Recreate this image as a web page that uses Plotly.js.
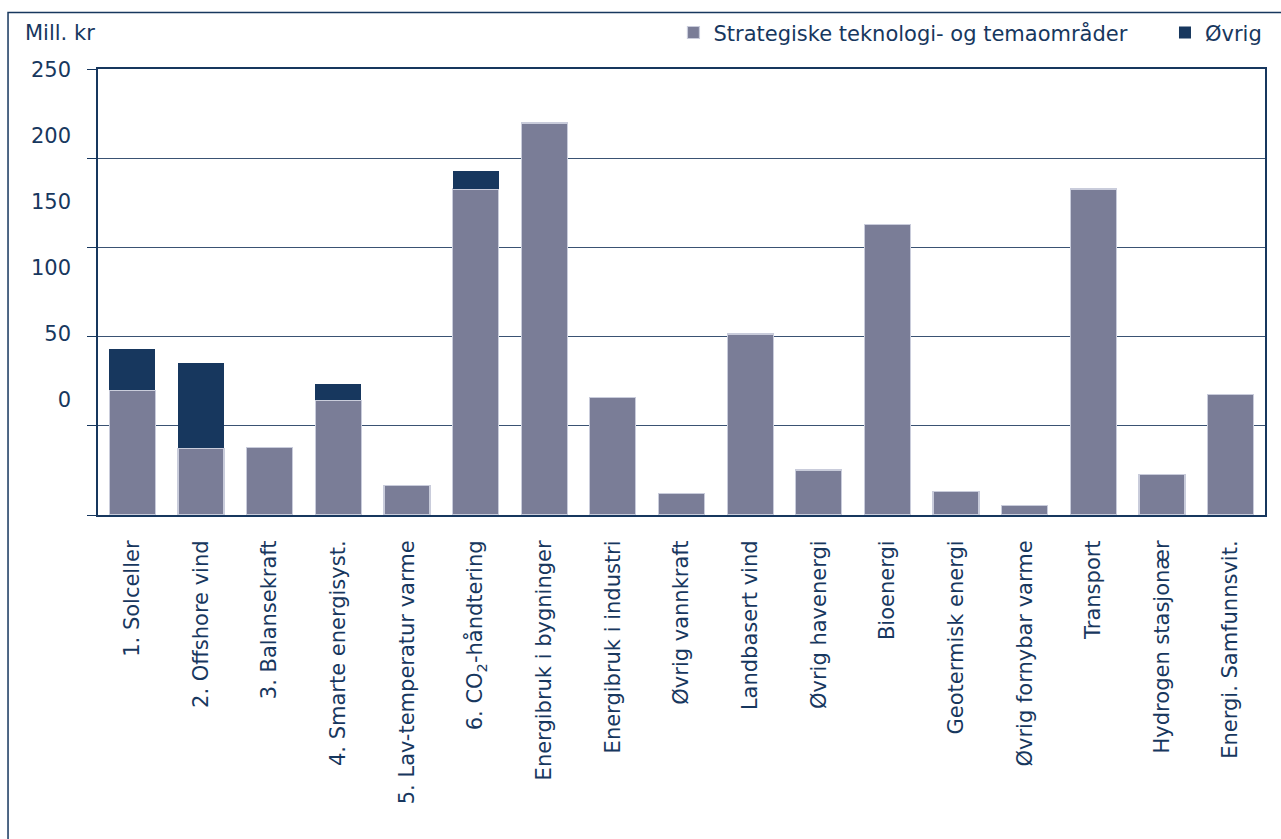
<!DOCTYPE html>
<html>
<head>
<meta charset="utf-8">
<script src="https://cdn.plot.ly/plotly-3.0.1.min.js"></script>
<style>
  html, body { margin: 0; padding: 0; background: #ffffff; }
  #chart { width: 1281px; height: 839px; }
</style>
</head>
<body>
<div id="chart"></div>
<script>
// ---- Data (Mill. kr) ----
var categories = [
  "1. Solceller",
  "2. Offshore vind",
  "3. Balansekraft",
  "4. Smarte energisyst.",
  "5. Lav-temperatur varme",
  "6. CO<sub>2</sub>-håndtering",
  "Energibruk i bygninger",
  "Energibruk i industri",
  "Øvrig vannkraft",
  "Landbasert vind",
  "Øvrig havenergi",
  "Bioenergi",
  "Geotermisk energi",
  "Øvrig fornybar varme",
  "Transport",
  "Hydrogen stasjonær",
  "Energi. Samfunnsvit."
];
var strategiske = [70, 37.3, 38, 64.2, 16.5, 182.7, 219.7, 65.7, 12.1, 101.5, 25.2, 162.9, 13.3, 5.4, 182.7, 22.8, 67.5];
var ovrig       = [23.3, 48, 0, 9.5, 0, 10.2, 0, 0, 0, 0, 0, 0, 0, 0, 0, 0, 0];
var seriesNames = ["Strategiske teknologi- og temaområder", "Øvrig"];
var yTickVals = [0, 50, 100, 150, 200, 250];
var yTickText = ["0", "50", "100", "150", "200", "250"];
var unitLabel = "Mill. kr";

var navy = "#17375e";
var grey = "#7a7d97";
var font = "DejaVu Sans, Verdana, sans-serif";

var traces = [
  {
    type: "bar", name: seriesNames[0], x: categories, y: strategiske,
    marker: { color: grey, line: { color: "#c9ccdb", width: 1.2 } },
    hoverinfo: "x+y", legend: "legend"
  },
  {
    type: "bar", name: seriesNames[1], x: categories, y: ovrig,
    marker: { color: navy, line: { color: "#c9ccdb", width: 0 } },
    hoverinfo: "x+y", legend: "legend2"
  },
  {
    type: "scatter", mode: "markers", x: [], y: [], yaxis: "y2",
    showlegend: false, hoverinfo: "skip"
  }
];

var legendCommon = {
  orientation: "h", xanchor: "left", y: 1.081, yanchor: "middle",
  font: { family: font, size: 21, color: navy },
  itemwidth: 30, bgcolor: "rgba(0,0,0,0)"
};

var layout = {
  width: 1281, height: 839,
  margin: { l: 98, r: 16, t: 69, b: 324, pad: 0, autoexpand: false },
  paper_bgcolor: "#ffffff", plot_bgcolor: "#ffffff",
  font: { family: font, color: navy, size: 21 },
  barmode: "stack",
  bargap: 0.33,
  showlegend: true,
  legend: Object.assign({}, legendCommon, { x: 0.4931 }),
  legend2: Object.assign({}, legendCommon, { x: 0.9143 }),
  xaxis: {
    type: "category",
    showline: true, linecolor: navy, linewidth: 2, mirror: true,
    ticks: "", tickangle: -90,
    tickfont: { family: font, size: 21, color: navy },
    ticklabelstandoff: 15,
    showgrid: false, zeroline: false, fixedrange: true
  },
  yaxis: {
    range: [0, 250],
    tickvals: yTickVals,
    showticklabels: false,
    ticks: "outside", ticklen: 9, tickcolor: navy, tickwidth: 1,
    showline: true, linecolor: navy, linewidth: 2, mirror: true,
    showgrid: true, gridcolor: "#3a5273", gridwidth: 1,
    zeroline: false, fixedrange: true
  },
  yaxis2: {
    overlaying: "y", side: "left", anchor: "x",
    range: [-87.4, 250.2],
    tickvals: yTickVals, ticktext: yTickText,
    ticks: "", showline: false, showgrid: false, zeroline: false,
    tickfont: { family: font, size: 21, color: navy },
    ticklabelstandoff: 26,
    fixedrange: true
  },
  shapes: [
    {
      type: "rect", xref: "paper", yref: "paper",
      x0: -0.0771, x1: 1.03, y0: -0.76, y1: 1.1265,
      line: { color: navy, width: 1.5 }, fillcolor: "rgba(0,0,0,0)", layer: "below"
    }
  ],
  annotations: [
    {
      text: unitLabel, xref: "paper", yref: "paper",
      x: -0.0645, xanchor: "left", y: 1.081, yanchor: "middle",
      showarrow: false, font: { family: font, size: 21, color: navy }
    }
  ]
};

Plotly.newPlot("chart", traces, layout, { displayModeBar: false, staticPlot: true });
</script>
</body>
</html>
